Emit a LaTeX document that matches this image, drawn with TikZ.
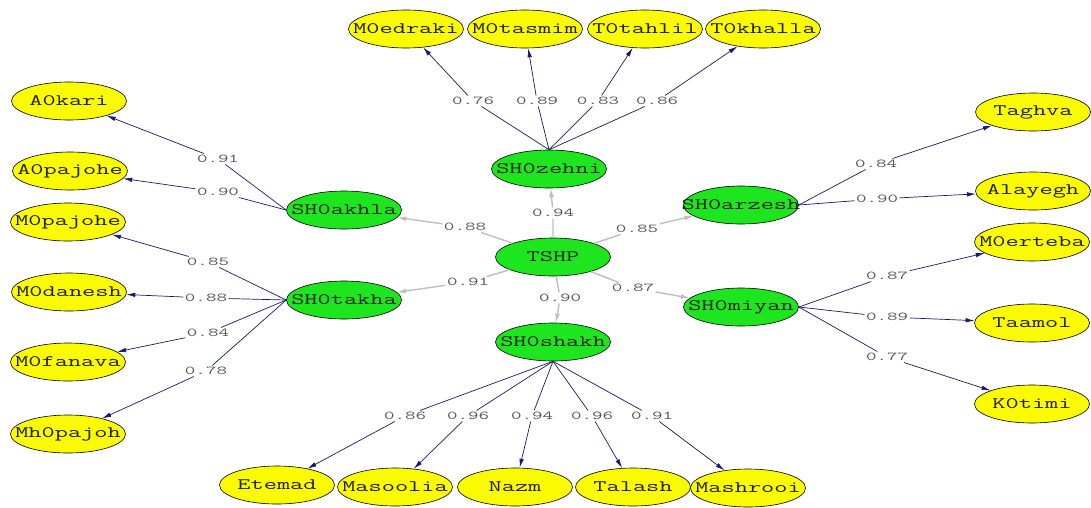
\documentclass[tikz,border=0pt]{standalone}
\usepackage{fontspec}
\usepackage{graphicx}
\newfontfamily\monof{Latin Modern Mono}
\usetikzlibrary{arrows.meta,shapes.geometric}
\definecolor{ylw}{RGB}{250,250,0}
\definecolor{grn}{RGB}{30,230,30}
\definecolor{navyc}{RGB}{25,25,110}
\definecolor{lgray}{RGB}{190,190,190}
\definecolor{lbltxt}{RGB}{85,85,85}
\definecolor{ntxt}{RGB}{30,30,20}
\newcommand{\nodetxt}[1]{\makebox[0pt]{\scalebox{1.6}[1]{\fontsize{16}{16}\selectfont\monof #1}}}
\newcommand{\lv}[1]{\scalebox{1.7}[1]{\fontsize{12}{12}\selectfont\monof #1}}
\tikzset{
  ov/.style={ellipse, draw=black, line width=0.6pt, minimum width=115pt, minimum height=38pt, inner sep=0pt, text=ntxt},
  yel/.style={ov, fill=ylw},
  gr/.style={ov, fill=grn},
  lbl/.style={fill=white, inner sep=1.5pt, text=lbltxt},
  nv/.style={draw=navyc, line width=0.7pt, -{Latex[length=9pt,width=4.5pt]}},
  gy/.style={draw=lgray, line width=1.4pt, -{Latex[length=9pt,width=5pt]}}
}
\begin{document}
\begin{tikzpicture}[x=1pt,y=-1pt]
\useasboundingbox (0,0) rectangle (1091,507);
% green nodes
\node[gr] (zehni) at (549,169) {\nodetxt{SH0zehni}};
\node[gr] (tshp) at (553,257) {\nodetxt{TSHP}};
\node[gr] (shakh) at (553,342) {\nodetxt{SH0shakh}};
\node[gr] (akhla) at (344,210) {\nodetxt{SH0akhla}};
\node[gr] (takha) at (344,300) {\nodetxt{SH0takha}};
\node[gr] (arzesh) at (741,205) {\nodetxt{SH0arzesh}};
\node[gr] (miyan) at (741,307) {\nodetxt{SH0miyan}};
% yellow nodes
\node[yel] (edraki) at (406,29) {\nodetxt{M0edraki}};
\node[yel] (tasmim) at (525,29) {\nodetxt{M0tasmim}};
\node[yel] (tahlil) at (645,29) {\nodetxt{T0tahlil}};
\node[yel] (khalla) at (763,29) {\nodetxt{T0khalla}};
\node[yel] (akari) at (69,101) {\nodetxt{A0kari}};
\node[yel] (apajohe) at (70,171) {\nodetxt{A0pajohe}};
\node[yel] (mpajohe) at (68,222) {\nodetxt{M0pajohe}};
\node[yel] (danesh) at (69,292) {\nodetxt{M0danesh}};
\node[yel] (fanava) at (68,362) {\nodetxt{M0fanava}};
\node[yel] (mhpajoh) at (68,434) {\nodetxt{Mh0pajoh}};
\node[yel] (taghva) at (1033,112) {\nodetxt{Taghva}};
\node[yel] (alayegh) at (1033,191) {\nodetxt{Alayegh}};
\node[yel] (erteba) at (1032,242) {\nodetxt{M0erteba}};
\node[yel] (taamol) at (1032,323) {\nodetxt{Taamol}};
\node[yel] (timi) at (1032,404) {\nodetxt{K0timi}};
\node[yel] (etemad) at (277,485) {\nodetxt{Etemad}};
\node[yel] (masoolia) at (395,487) {\nodetxt{Masoolia}};
\node[yel] (nazm) at (515,487) {\nodetxt{Nazm}};
\node[yel] (talash) at (633,487) {\nodetxt{Talash}};
\node[yel] (mashrooi) at (748,488) {\nodetxt{Mashrooi}};
% labels
\node[lbl] (z1) at (473,101) {\lv{0.76}};
\node[lbl] (z2) at (537,101) {\lv{0.89}};
\node[lbl] (z3) at (598,101) {\lv{0.83}};
\node[lbl] (z4) at (657,101) {\lv{0.86}};
\node[lbl] (a1) at (218,159) {\lv{0.91}};
\node[lbl] (a2) at (218,192) {\lv{0.90}};
\node[lbl] (k1) at (208,262) {\lv{0.85}};
\node[lbl] (k2) at (206,298) {\lv{0.88}};
\node[lbl] (k3) at (208,333) {\lv{0.84}};
\node[lbl] (k4) at (206,371) {\lv{0.78}};
\node[lbl] (r1) at (876,164) {\lv{0.84}};
\node[lbl] (r2) at (877,199) {\lv{0.90}};
\node[lbl] (m1) at (887,276) {\lv{0.87}};
\node[lbl] (m2) at (887,317) {\lv{0.89}};
\node[lbl] (m3) at (887,357) {\lv{0.77}};
\node[lbl] (s1) at (405,416) {\lv{0.86}};
\node[lbl] (s2) at (468,416) {\lv{0.96}};
\node[lbl] (s3) at (532,416) {\lv{0.94}};
\node[lbl] (s4) at (592,416) {\lv{0.96}};
\node[lbl] (s5) at (652,416) {\lv{0.91}};
\node[lbl] (t1) at (553,213) {\lv{0.94}};
\node[lbl] (t2) at (465,227) {\lv{0.88}};
\node[lbl] (t3) at (637,229) {\lv{0.85}};
\node[lbl] (t4) at (468,282) {\lv{0.91}};
\node[lbl] (t5) at (560,298) {\lv{0.90}};
\node[lbl] (t6) at (633,288) {\lv{0.87}};
% structural edges
\draw[gy] (tshp) -- (t1) -- (zehni);
\draw[gy] (tshp) -- (t2) -- (akhla);
\draw[gy] (tshp) -- (t3) -- (arzesh);
\draw[gy] (tshp) -- (t4) -- (takha);
\draw[gy] (tshp) -- (t5) -- (shakh);
\draw[gy] (tshp) -- (t6) -- (miyan);
% measurement edges
\draw[nv] (zehni.north) -- (z1) -- (edraki);
\draw[nv] (zehni.north) -- (z2) -- (tasmim);
\draw[nv] (zehni.north) -- (z3) -- (tahlil);
\draw[nv] (zehni.north) -- (z4) -- (khalla);
\draw[nv] (akhla.west) -- (a1) -- (akari);
\draw[nv] (akhla.west) -- (a2) -- (apajohe);
\draw[nv] (takha.west) -- (k1) -- (mpajohe);
\draw[nv] (takha.west) -- (k2) -- (danesh);
\draw[nv] (takha.west) -- (k3) -- (fanava);
\draw[nv] (takha.west) -- (k4) -- (mhpajoh);
\draw[nv] (arzesh.east) -- (r1) -- (taghva);
\draw[nv] (arzesh.east) -- (r2) -- (alayegh);
\draw[nv] (miyan.east) -- (m1) -- (erteba);
\draw[nv] (miyan.east) -- (m2) -- (taamol);
\draw[nv] (miyan.east) -- (m3) -- (timi);
\draw[nv] (shakh.south) -- (s1) -- (etemad);
\draw[nv] (shakh.south) -- (s2) -- (masoolia);
\draw[nv] (shakh.south) -- (s3) -- (nazm);
\draw[nv] (shakh.south) -- (s4) -- (talash);
\draw[nv] (shakh.south) -- (s5) -- (mashrooi);
\end{tikzpicture}
\end{document}
